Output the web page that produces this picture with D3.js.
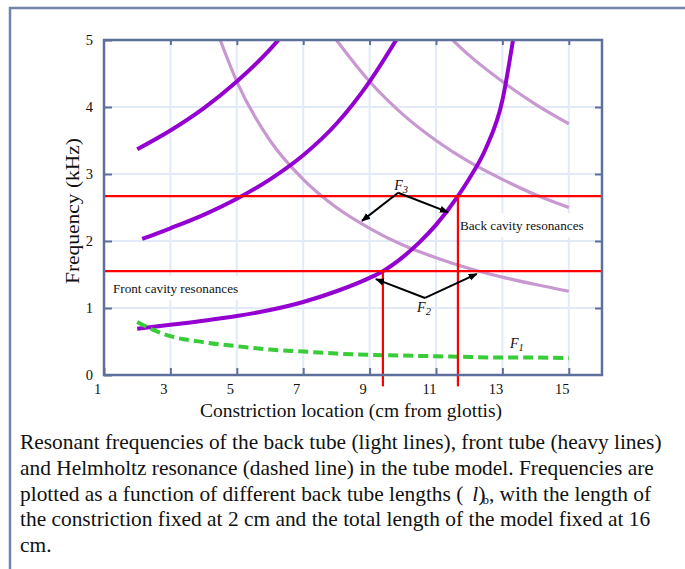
<!DOCTYPE html>
<html>
<head>
<meta charset="utf-8">
<script src="https://cdn.jsdelivr.net/npm/d3@7"></script>
<style>
  body { margin: 0; background: #fff; }
  svg { display: block; font-family: "Liberation Serif", "Times New Roman", serif; }
</style>
</head>
<body>
<script>
//tick values
let xTicks = [1, 3, 5, 7, 9, 11, 13, 15];
let yTicks = [0, 1, 2, 3, 4, 5];

//front tube resonances (heavy lines), [cm, kHz]
let front1 = [[2, 0.69], [3, 0.75], [4, 0.81], [5, 0.88], [6, 0.97], [7, 1.09], [8, 1.25], [9, 1.45], [9.4, 1.55], [10, 1.76], [10.5, 1.98], [11, 2.24], [11.66, 2.67], [12, 2.93], [12.5, 3.38], [13, 4.1], [13.32, 5.0]];
let front2 = [[2.15, 2.03], [3, 2.19], [4, 2.39], [5, 2.63], [6, 2.92], [7, 3.28], [8, 3.75], [9, 4.38], [9.8, 5.0]];
let front3 = [[2, 3.37], [3, 3.65], [4, 3.98], [5, 4.38], [6, 4.86], [6.25, 5.0]];

//back tube resonances (light lines)
let back1 = [[4.5, 5.0], [5, 4.38], [6, 3.5], [7, 2.92], [8, 2.5], [9, 2.19], [10, 1.94], [11, 1.75], [12, 1.59], [13, 1.46], [14, 1.35], [15, 1.25]];
let back2 = [[8, 5.0], [9, 4.38], [10, 3.89], [11, 3.5], [12, 3.18], [13, 2.92], [14, 2.69], [15, 2.5]];
let back3 = [[11.5, 5.0], [12, 4.77], [13, 4.38], [14, 4.04], [15, 3.75]];

//helmholtz resonance (dashed)
let helmholtz = [[2, 0.79], [2.5, 0.67], [3, 0.58], [4, 0.49], [5, 0.43], [6, 0.38], [7, 0.35], [8, 0.32], [9, 0.3], [10, 0.29], [11, 0.28], [12, 0.27], [13, 0.26], [14, 0.26], [15, 0.25]];

//red guide lines
let guideFreqs = [1.55, 2.67];
let guideLocs = [[9.4, 1.55], [11.66, 2.67]];
let guideBottom = -0.17;

//arrows: apex then tips
let f3Arrow = [[9.86, 2.72], [8.77, 2.3], [11.36, 2.43]];
let f2Arrow = [[10.67, 1.15], [9.19, 1.43], [12.23, 1.51]];

//formant labels [name, sub, cm, kHz]
let formantLabels = [["F", "3", 9.74, 2.76], ["F", "2", 10.43, 0.94], ["F", "1", 13.23, 0.4]];
let regionLabels = [["Back cavity resonances", 11.72, 2.16], ["Front cavity resonances", 1.27, 1.22]];

let caption = [
  "Resonant frequencies of the back tube (light lines), front tube (heavy lines)",
  "and Helmholtz resonance (dashed line) in the tube model. Frequencies are",
  "plotted as a function of different back tube lengths (",
  "the constriction fixed at 2 cm and the total length of the model fixed at 16",
  "cm."];

//set up size and margin
let W = 685, H = 569;
let margin = { top: 40, right: 83, bottom: 194, left: 104 };
let width = W - margin.left - margin.right;
let height = H - margin.top - margin.bottom;

let frameColor = "#5f6f9c";
let gridColor = "#e2eaf8";
let heavyColor = "#9400d0";
let lightColor = "#c898d0";
let serif = "'Liberation Serif', 'Times New Roman', serif";

const svg = d3.select("body").append("svg").
attr("width", W).
attr("height", H);

svg.append("rect").attr("width", W).attr("height", H).attr("fill", "#fff");

//outer border
svg.append("path").
attr("d", "M10," + H + "V8H" + W).
attr("fill", "none").
attr("stroke", "#7483ab").
attr("stroke-width", 2.5);

let defs = svg.append("defs");
defs.append("clipPath").attr("id", "plot-clip").
append("rect").attr("width", width).attr("height", height);
defs.append("marker").
attr("id", "head").
attr("viewBox", "0 0 10 10").
attr("refX", 9).attr("refY", 5).
attr("markerWidth", 9).attr("markerHeight", 9).
attr("markerUnits", "userSpaceOnUse").
attr("orient", "auto").
append("path").attr("d", "M0,1L10,5L0,9Z").attr("fill", "#000");

let g = svg.append("g").attr("transform", "translate(" + margin.left + "," + margin.top + ")");

//scales
let xScale = d3.scaleLinear().domain([1, 16]).range([0, width]);
let yScale = d3.scaleLinear().domain([0, 5]).range([height, 0]);

//grid
g.append("g").selectAll("line").
data(xTicks.slice(1)).
enter().append("line").
attr("x1", d => xScale(d)).attr("x2", d => xScale(d)).
attr("y1", 0).attr("y2", height).
attr("stroke", gridColor).attr("stroke-width", 2);
g.append("g").selectAll("line").
data(yTicks.slice(1, -1)).
enter().append("line").
attr("x1", 0).attr("x2", width).
attr("y1", d => yScale(d)).attr("y2", d => yScale(d)).
attr("stroke", gridColor).attr("stroke-width", 2);

//white boxes behind region labels
g.selectAll(".label-bg").
data(regionLabels).
enter().append("rect").
attr("class", "label-bg").
attr("x", d => xScale(d[1]) - 2).
attr("y", d => yScale(d[2]) - 17).
attr("width", d => d[0].length * 6.2 + 6).
attr("height", 24).
attr("fill", "#fff");

//curves
let line = d3.line().
x(d => xScale(d[0])).
y(d => yScale(d[1])).
curve(d3.curveMonotoneX);

let curves = g.append("g").attr("clip-path", "url(#plot-clip)");

curves.selectAll(".back").
data([back1, back2, back3]).
enter().append("path").
attr("class", "back").
attr("d", line).
attr("fill", "none").
attr("stroke", lightColor).
attr("stroke-width", 3.2);

curves.selectAll(".front").
data([front1, front2, front3]).
enter().append("path").
attr("class", "front").
attr("d", line).
attr("fill", "none").
attr("stroke", heavyColor).
attr("stroke-width", 4);

curves.append("path").
datum(helmholtz).
attr("d", line).
attr("fill", "none").
attr("stroke", "#38cc38").
attr("stroke-width", 4).
attr("stroke-dasharray", "10,5");

//red guide lines
g.selectAll(".guide-h").
data(guideFreqs).
enter().append("line").
attr("x1", 0).attr("x2", width).
attr("y1", d => yScale(d)).attr("y2", d => yScale(d)).
attr("stroke", "#ff0000").attr("stroke-width", 2.2);
g.selectAll(".guide-v").
data(guideLocs).
enter().append("line").
attr("x1", d => xScale(d[0])).attr("x2", d => xScale(d[0])).
attr("y1", d => yScale(d[1])).attr("y2", yScale(guideBottom)).
attr("stroke", "#ff0000").attr("stroke-width", 2.2);

//arrows
[f3Arrow, f2Arrow].forEach(arr => {
  arr.slice(1).forEach(tip => {
    g.append("line").
    attr("x1", xScale(arr[0][0])).attr("y1", yScale(arr[0][1])).
    attr("x2", xScale(tip[0])).attr("y2", yScale(tip[1])).
    attr("stroke", "#000").attr("stroke-width", 2).
    attr("marker-end", "url(#head)");
  });
});

//labels
g.selectAll(".region-label").
data(regionLabels).
enter().append("text").
attr("x", d => xScale(d[1])).
attr("y", d => yScale(d[2])).
style("font-family", serif).
style("font-size", "13.2px").
attr("fill", "#111").
text(d => d[0]);

let fl = g.selectAll(".formant").
data(formantLabels).
enter().append("text").
attr("x", d => xScale(d[2])).
attr("y", d => yScale(d[3])).
style("font-family", serif).
style("font-size", "14px").
style("font-style", "italic").
attr("fill", "#111");
fl.append("tspan").text(d => d[0]);
fl.append("tspan").attr("dy", 3).style("font-size", "10.5px").text(d => d[1]);

//axes
let xAxis = d3.axisBottom(xScale).tickValues(xTicks).tickSize(-7).tickPadding(9).tickFormat(d3.format("d"));
let yAxis = d3.axisLeft(yScale).tickValues(yTicks).tickSize(-8).tickPadding(11).tickFormat(d3.format("d"));
let topAxis = d3.axisTop(xScale).tickValues(xTicks.slice(1)).tickSize(-5).tickFormat("");
let rightAxis = d3.axisRight(yScale).tickValues(yTicks.slice(1, -1)).tickSize(-7).tickFormat("");

let axes = [
  [xAxis, "translate(0," + height + ")", -7],
  [yAxis, null, 0],
  [topAxis, null, 0],
  [rightAxis, "translate(" + width + ",0)", 0]];

axes.forEach(a => {
  let ag = g.append("g").call(a[0]).
  attr("font-family", serif).
  attr("font-size", 14.5);
  if (a[1]) ag.attr("transform", a[1]);
  ag.select(".domain").remove();
  ag.selectAll(".tick line").attr("stroke", frameColor).attr("stroke-width", 2);
  ag.selectAll(".tick text").
  attr("dx", a[2]).
  attr("fill", "#111");
});

//frame
g.append("rect").
attr("width", width).
attr("height", height).
attr("fill", "none").
attr("stroke", frameColor).
attr("stroke-width", 2.5);

//axis titles
svg.append("text").
attr("transform", "translate(79,211) rotate(-90)").
attr("text-anchor", "middle").
attr("textLength", 146).
attr("lengthAdjust", "spacingAndGlyphs").
style("font-family", serif).
style("font-size", "19px").
attr("fill", "#111").
text("Frequency (kHz)");

svg.append("text").
attr("x", 351).
attr("y", 417).
attr("text-anchor", "middle").
style("font-family", serif).
style("font-size", "19.5px").
attr("fill", "#111").
text("Constriction location (cm from glottis)");

//caption
let cap = svg.append("text").
style("font-family", serif).
style("font-size", "21.4px").
attr("fill", "#111");

caption.forEach((t, i) => {
  cap.append("tspan").attr("x", 20).attr("y", 449 + i * 25.8).text(t);
  if (i === 2) {
    cap.append("tspan").attr("dx", 9).style("font-style", "italic").text("l");
    cap.append("tspan").text(")");
    cap.append("tspan").attr("dx", -3).attr("dy", 3).style("font-size", "13px").text("b");
    cap.append("tspan").attr("dy", -3).text(", with the length of");
  }
});
</script>
</body>
</html>
